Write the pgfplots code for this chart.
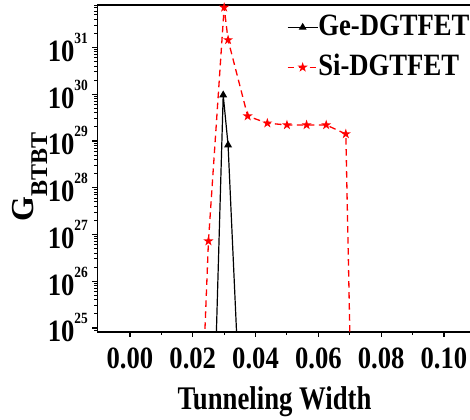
\documentclass[border=0pt]{standalone}
\usepackage{fontspec}
\setmainfont{Liberation Serif}[FakeStretch=0.86]
\newfontfamily\labfont{Liberation Serif}[FakeStretch=0.81]
\newfontfamily\ylabfont{Liberation Serif}
\usepackage{pgfplots}
\pgfplotsset{compat=1.18}
\pgfdeclareplotmark{fstar}{%
  \pgfpathmoveto{\pgfpointpolar{90}{\pgfplotmarksize}}%
  \pgfpathlineto{\pgfpointpolar{126}{0.382\pgfplotmarksize}}%
  \pgfpathlineto{\pgfpointpolar{162}{\pgfplotmarksize}}%
  \pgfpathlineto{\pgfpointpolar{198}{0.382\pgfplotmarksize}}%
  \pgfpathlineto{\pgfpointpolar{234}{\pgfplotmarksize}}%
  \pgfpathlineto{\pgfpointpolar{270}{0.382\pgfplotmarksize}}%
  \pgfpathlineto{\pgfpointpolar{306}{\pgfplotmarksize}}%
  \pgfpathlineto{\pgfpointpolar{342}{0.382\pgfplotmarksize}}%
  \pgfpathlineto{\pgfpointpolar{18}{\pgfplotmarksize}}%
  \pgfpathlineto{\pgfpointpolar{54}{0.382\pgfplotmarksize}}%
  \pgfpathclose
  \pgfusepathqfillstroke}
\newcommand\supf{\fontsize{7.8}{9}\selectfont}
\newcommand\yl[1]{10\raisebox{9pt}{\supf #1}}
\begin{document}
\begin{tikzpicture}
\begin{axis}[
  width=186.35pt, height=163.5pt, scale only axis,
  xmin=-0.0104, xmax=0.1083,
  ymode=log, log basis y=10, ymin=8.2e24, ymax=8.1e31,
  axis y line*=left,
  xtick pos=left, ytick pos=left,
  tick align=outside,
  xtick={0,0.02,0.04,0.06,0.08,0.1},
  minor x tick num=1,
  ytickten={25,26,27,28,29,30,31},
  yticklabels={\yl{25},\yl{26},\yl{27},\yl{28},\yl{29},\yl{30},\yl{31}},
  minor ytick={9e24,
    2e25,3e25,4e25,5e25,6e25,7e25,8e25,9e25,
    2e26,3e26,4e26,5e26,6e26,7e26,8e26,9e26,
    2e27,3e27,4e27,5e27,6e27,7e27,8e27,9e27,
    2e28,3e28,4e28,5e28,6e28,7e28,8e28,9e28,
    2e29,3e29,4e29,5e29,6e29,7e29,8e29,9e29,
    2e30,3e30,4e30,5e30,6e30,7e30,8e30,9e30,
    2e31,3e31,4e31,5e31,6e31,7e31,8e31},
  major tick length=2.5pt, minor tick length=1.5pt,
  axis line style={line width=0.8pt},
  every tick/.style={black, line width=0.6pt},
  every minor tick/.style={black, line width=0.5pt},
  /pgf/number format/assume math mode=true,
  x tick label style={font=\fontsize{15.5}{18}\selectfont\bfseries,
     /pgf/number format/fixed, /pgf/number format/fixed zerofill,
     /pgf/number format/precision=2, inner sep=0pt, anchor=north, yshift=-5pt},
  y tick label style={font=\fontsize{15.5}{18}\selectfont\bfseries, inner sep=0pt, anchor=east, xshift=-2pt},
  xlabel={\labfont\fontsize{16.5}{19}\selectfont\bfseries Tunneling Width},
  xlabel style={at={(axis description cs:0.4755,-0.2385)}, anchor=base, inner sep=0pt},
  ylabel={\ylabfont\fontsize{16}{19}\selectfont\bfseries G\raisebox{-7pt}{\fontsize{12}{14}\selectfont BTBT}},
  ylabel style={at={(axis description cs:-0.1725,0.474)}, anchor=base, inner sep=0pt},
  legend style={draw=none, fill=none, at={(axis description cs:0.508,0.9786)}, anchor=north west,
     inner xsep=0pt, inner ysep=0pt, font=\fontsize{15.5}{18}\selectfont\bfseries,
     nodes={inner xsep=0pt, inner ysep=0.5pt, text height=11pt, text depth=3pt}, row sep=5pt},
  legend cell align=left,
  legend image code/.code={\draw[mark repeat=2,mark phase=2,#1] plot coordinates {(0pt,0pt) (7.5pt,0pt) (15pt,0pt)};},
]
\coordinate (O) at (rel axis cs:0,0);
\addplot[black, line width=0.6pt, mark=triangle*, mark size=1.7pt, mark options={solid, fill=black}]
  coordinates {(0.025,1e19) (0.0297,9.6e29) (0.03125,8.2e28) (0.0375,4.5e19)};
\addlegendentry{Ge-DGTFET}
\addplot[red, line width=0.65pt, dash pattern=on 3.3pt off 2.2pt, mark=fstar, mark size=1.6pt, mark options={solid, fill=red, draw=red}]
  coordinates {(0.02,2.5e18) (0.025,7.2e26) (0.0300,7.2e31) (0.03125,1.45e31) (0.0375,3.4e29)
   (0.04375,2.4e29) (0.05,2.2e29) (0.05625,2.2e29) (0.0625,2.2e29) (0.06875,1.41e29) (0.075,3e8)};
\addlegendentry{Si-DGTFET}
\end{axis}
\pgfresetboundingbox
\path[use as bounding box] ([xshift=-48.65pt,yshift=-43.5pt]O) rectangle ([xshift=186.35pt,yshift=166pt]O);
\end{tikzpicture}
\end{document}
